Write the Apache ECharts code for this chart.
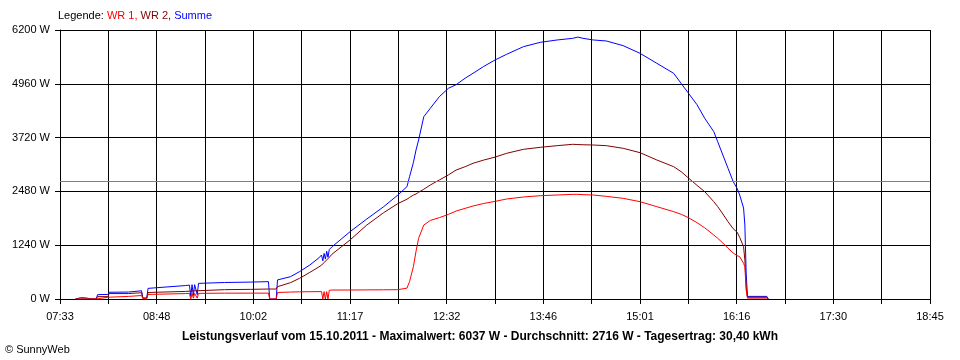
<!DOCTYPE html>
<html>
<head>
<meta charset="utf-8">
<script src="https://cdn.jsdelivr.net/npm/echarts@6/dist/echarts.min.js"></script>
<style>
  html, body { margin: 0; padding: 0; background: #fff; }
  #chart { width: 960px; height: 360px; }
</style>
</head>
<body>
<div id="chart"></div>
<script>
// Leistungsverlauf 15.10.2011, SunnyWeb
const startTime = "07:33";
const xTickLabels = ["07:33", "08:48", "10:02", "11:17", "12:32", "13:46", "15:01", "16:16", "17:30", "18:45"];
const yTicks = [0, 1240, 2480, 3720, 4960, 6200];
const avgWatt = 2716;

const times = [
  "07:45", "07:49", "07:50", "07:53", "07:57", "07:58", "08:01",
  "08:02", "08:10", "08:11", "08:26", "08:27", "08:36", "08:37", "08:40", "08:41",
  "09:10", "09:13", "09:14", "09:15", "09:16", "09:17", "09:19", "09:20",
  "09:40", "10:00", "10:14", "10:15", "10:20", "10:21",
  "10:31", "10:38", "10:46", "10:53", "10:55", "10:56", "10:57", "10:58", "10:59", "11:00", "11:01", "11:03",
  "11:17", "11:30", "11:43", "11:54", "12:01", "12:03", "12:06", "12:08", "12:10", "12:14", "12:19",
  "12:26", "12:33", "12:39", "12:46", "12:52", "13:00", "13:09", "13:18", "13:31", "13:44", "13:57",
  "14:09", "14:13", "14:17", "14:25", "14:35", "14:48", "15:01", "15:14", "15:27", "15:33", "15:38",
  "15:45", "15:51", "15:58", "16:01", "16:05", "16:09", "16:13", "16:16", "16:18",
  "16:21", "16:22", "16:23", "16:24", "16:39", "16:40"
];

const summe = [
  0, 30, 0, 25, 0, 40, 0,
  100, 105, 155, 160, 190, 190, 20, 20, 245,
  310, 320, 60, 330, 80, 330, 100, 360,
  380, 390, 400, 0, 0, 440,
  514, 630, 784, 950, 1014, 880, 1050, 920, 1100, 960, 1140, 1200,
  1551, 1844, 2128, 2397, 2589, 2819, 3150, 3434, 3665, 4202, 4395,
  4663, 4856, 4940, 5090, 5202, 5355, 5509, 5640, 5816, 5916, 5970,
  6008, 6037, 6008, 5970, 5947, 5839, 5663, 5432, 5202, 4960, 4760,
  4480, 4165, 3857, 3626, 3319, 3012, 2704, 2551, 2397,
  2097, 1705, 600, 60, 60, 0
];

const wr2 = [
  0, 0, 0, 0, 0, 0, 0,
  55, 55, 125, 125, 145, 145, 20, 20, 150,
  175, 180, 180, 185, 185, 190, 190, 207,
  215, 222, 230, 230, 230, 284,
  376, 476, 614, 740, 780, 810, 840, 870, 900, 930, 960, 1030,
  1360, 1705, 1990, 2200, 2300, 2340, 2397, 2420, 2460, 2530, 2627,
  2743, 2860, 2973, 3050, 3128, 3200, 3270, 3358, 3450, 3496, 3534,
  3565, 3560, 3555, 3549, 3534, 3473, 3373, 3204, 3050, 2930, 2800,
  2620, 2474, 2243, 2130, 1960, 1780, 1620, 1540, 1420,
  1206, 900, 300, 40, 40, 0
];

const wr1 = [
  0, 0, 0, 0, 0, 0, 0,
  40, 40, 60, 60, 80, 80, 10, 10, 105,
  125, 130, 0, 130, 20, 130, 20, 130,
  135, 135, 135, 0, 0, 150,
  160, 165, 168, 170, 170, 0, 170, 0, 170, 0, 200, 207,
  207, 210, 212, 215, 250, 400, 750, 1100, 1400, 1705, 1810,
  1875, 1950, 2028, 2090, 2143, 2200, 2250, 2305, 2351, 2381, 2397,
  2412, 2412, 2405, 2397, 2366, 2320, 2243, 2128, 2013, 1950, 1880,
  1760, 1640, 1475, 1400, 1290, 1170, 1060, 1000, 975,
  822, 745, 207, 20, 20, 0
];

// seconds since 07:33 -> grid step of 37 min 20 s = 2240 s
function toSec(hhmm) {
  const p = hhmm.split(":");
  const s = startTime.split(":");
  return ((+p[0] * 60 + +p[1]) - (+s[0] * 60 + +s[1])) * 60;
}
const stepSec = 2240;

function pairs(vals) {
  return times.map((t, i) => [toSec(t), vals[i]]);
}

const font = "Liberation Sans, Arial, sans-serif";

const chart = echarts.init(document.getElementById("chart"), null, { renderer: "canvas" });

chart.setOption({
  animation: false,
  backgroundColor: "#fff",
  title: [
    {
      text: "Legende: {r|WR 1,} {d|WR 2,} {b|Summe}",
      left: 58,
      top: 10,
      padding: 0,
      textStyle: {
        fontFamily: font,
        fontSize: 11,
        fontWeight: "normal",
        color: "#000",
        rich: {
          r: { color: "#ff0000", fontFamily: font, fontSize: 11 },
          d: { color: "#800000", fontFamily: font, fontSize: 11 },
          b: { color: "#0000ff", fontFamily: font, fontSize: 11 },
        },
      },
    },
    {
      text: "Leistungsverlauf vom 15.10.2011 - Maximalwert: 6037 W - Durchschnitt: 2716 W - Tagesertrag: 30,40 kWh",
      left: "center",
      top: 331,
      padding: 0,
      textStyle: { fontFamily: font, fontSize: 12, fontWeight: "bold", color: "#000" },
    },
    {
      text: "© SunnyWeb",
      left: 5,
      top: 344,
      padding: 0,
      textStyle: { fontFamily: font, fontSize: 11, fontWeight: "normal", color: "#000" },
    },
  ],
  grid: { left: 60, right: 30, top: 30, bottom: 61, containLabel: false },
  xAxis: {
    type: "value",
    min: 0,
    max: stepSec * 18,
    interval: stepSec,
    axisLine: { show: true, onZero: false, lineStyle: { color: "#000", width: 1 } },
    axisTick: { show: true, length: 5, lineStyle: { color: "#000" } },
    splitLine: { show: true, lineStyle: { color: "#000", width: 1 } },
    axisLabel: {
      margin: 12,
      color: "#000",
      fontFamily: font,
      fontSize: 11,
      formatter: (v) => {
        const i = Math.round(v / stepSec);
        return i % 2 === 0 ? xTickLabels[i / 2] : "";
      },
    },
  },
  yAxis: {
    type: "value",
    min: yTicks[0],
    max: yTicks[yTicks.length - 1],
    interval: yTicks[1] - yTicks[0],
    axisLine: { show: true, lineStyle: { color: "#000", width: 1 } },
    axisTick: { show: true, length: 5, lineStyle: { color: "#000" } },
    splitLine: { show: true, lineStyle: { color: "#000", width: 1 } },
    axisLabel: {
      margin: 10,
      color: "#000",
      fontFamily: font,
      fontSize: 11,
      formatter: (v) => v + " W",
    },
  },
  series: [
    {
      name: "Summe",
      type: "line",
      data: pairs(summe),
      showSymbol: false,
      lineStyle: { color: "#0000ff", width: 1 },
      markLine: {
        silent: true,
        symbol: "none",
        label: { show: false },
        lineStyle: { color: "#808080", type: "solid", width: 1 },
        data: [{ yAxis: avgWatt }],
      },
    },
    {
      name: "WR 2",
      type: "line",
      data: pairs(wr2),
      showSymbol: false,
      lineStyle: { color: "#800000", width: 1 },
    },
    {
      name: "WR 1",
      type: "line",
      data: pairs(wr1),
      showSymbol: false,
      lineStyle: { color: "#ff0000", width: 1 },
    },
  ],
});
</script>
</body>
</html>
